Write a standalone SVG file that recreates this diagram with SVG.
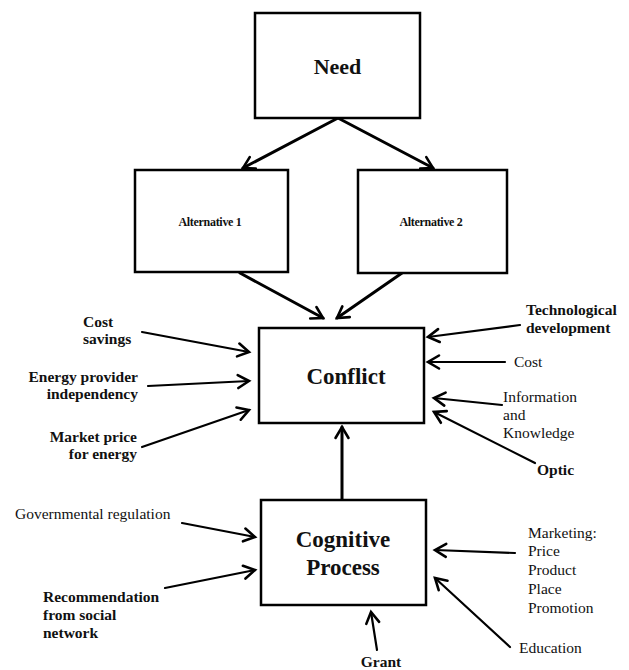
<svg xmlns="http://www.w3.org/2000/svg" width="629" height="670" viewBox="0 0 629 670">
<style>
.box{fill:#fff;stroke:#000;stroke-width:2.5}
.t{font-family:"Liberation Serif","Times New Roman",serif;fill:#111}
.b{font-weight:bold}
.lbl{font-size:15.5px}
.c{stroke:#000;fill:none;stroke-linecap:round}
.thick{stroke-width:3}
.thin{stroke-width:2.2}
</style>
<defs>
<marker id="ah" markerUnits="userSpaceOnUse" markerWidth="24" markerHeight="24" viewBox="-14 -12 16 24" refX="0" refY="0" orient="auto">
<path d="M-11,-6.5 L0,0 L-11,6.5" fill="none" stroke="#000" stroke-width="2.6" stroke-linecap="round" stroke-linejoin="miter"/>
</marker>
</defs>
<rect width="629" height="670" fill="#fff"/>
<g id="connectors">
<line class="c thick" x1="338" y1="118" x2="243" y2="168" marker-end="url(#ah)"/>
<line class="c thick" x1="338" y1="118" x2="433" y2="168" marker-end="url(#ah)"/>
<line class="c thick" x1="240" y1="273" x2="323" y2="318" marker-end="url(#ah)"/>
<line class="c thick" x1="402" y1="273" x2="337" y2="318" marker-end="url(#ah)"/>
<line class="c thick" x1="342" y1="500" x2="342" y2="427" marker-end="url(#ah)"/>
<line class="c thin" x1="142" y1="332" x2="249" y2="352" marker-end="url(#ah)"/>
<line class="c thin" x1="148" y1="386" x2="249" y2="381" marker-end="url(#ah)"/>
<line class="c thin" x1="142" y1="447" x2="249" y2="410" marker-end="url(#ah)"/>
<line class="c thin" x1="520" y1="325" x2="428" y2="337" marker-end="url(#ah)"/>
<line class="c thin" x1="505" y1="362" x2="428" y2="362" marker-end="url(#ah)"/>
<line class="c thin" x1="502" y1="405" x2="434" y2="398" marker-end="url(#ah)"/>
<line class="c thin" x1="535" y1="463" x2="434" y2="412" marker-end="url(#ah)"/>
<line class="c thin" x1="182" y1="523" x2="255" y2="537" marker-end="url(#ah)"/>
<line class="c thin" x1="165" y1="588" x2="255" y2="570" marker-end="url(#ah)"/>
<line class="c thin" x1="515" y1="553" x2="435" y2="550" marker-end="url(#ah)"/>
<line class="c thin" x1="510" y1="647" x2="435" y2="578" marker-end="url(#ah)"/>
<line class="c thin" x1="377" y1="650" x2="371" y2="612" marker-end="url(#ah)"/>
</g>
<g id="need">
<rect class="box" x="255" y="13" width="165" height="105"/>
<text class="t b" x="337.5" y="74" font-size="22" text-anchor="middle">Need</text>
</g>
<g id="alternative1">
<rect class="box" x="135" y="170" width="153" height="102"/>
<text class="t b" x="210" y="226" font-size="12" text-anchor="middle" letter-spacing="-0.3">Alternative 1</text>
</g>
<g id="alternative2">
<rect class="box" x="358" y="170" width="149" height="103"/>
<text class="t b" x="431" y="226" font-size="12" text-anchor="middle" letter-spacing="-0.3">Alternative 2</text>
</g>
<g id="conflict">
<rect class="box" x="259" y="328" width="165" height="95"/>
<text class="t b" x="346" y="384" font-size="23" text-anchor="middle">Conflict</text>
</g>
<g id="cognitive-process">
<rect class="box" x="261" y="500" width="165" height="105"/>
<text class="t b" x="343" y="547" font-size="23" text-anchor="middle">Cognitive</text>
<text class="t b" x="343" y="575" font-size="23" text-anchor="middle">Process</text>
</g>
<g id="cost-savings">
<text class="t b lbl" x="83" y="327">Cost</text>
<text class="t b lbl" x="83" y="344">savings</text>
</g>
<g id="energy-provider">
<text class="t b lbl" x="138" y="382" text-anchor="end">Energy provider</text>
<text class="t b lbl" x="138" y="399" text-anchor="end">independency</text>
</g>
<g id="market-price">
<text class="t b lbl" x="137" y="442" text-anchor="end">Market price</text>
<text class="t b lbl" x="137" y="459" text-anchor="end">for energy</text>
</g>
<g id="technological">
<text class="t b lbl" x="526" y="315">Technological</text>
<text class="t b lbl" x="526" y="333">development</text>
</g>
<g id="cost">
<text class="t lbl" x="514" y="367">Cost</text>
</g>
<g id="information">
<text class="t lbl" x="503" y="402">Information</text>
<text class="t lbl" x="503" y="420">and</text>
<text class="t lbl" x="503" y="438">Knowledge</text>
</g>
<g id="optic">
<text class="t b lbl" x="537" y="475">Optic</text>
</g>
<g id="governmental">
<text class="t lbl" x="15" y="519">Governmental regulation</text>
</g>
<g id="recommendation">
<text class="t b lbl" x="43" y="602">Recommendation</text>
<text class="t b lbl" x="43" y="620">from social</text>
<text class="t b lbl" x="43" y="638">network</text>
</g>
<g id="marketing">
<text class="t lbl" x="528" y="538">Marketing:</text>
<text class="t lbl" x="528" y="556">Price</text>
<text class="t lbl" x="528" y="575">Product</text>
<text class="t lbl" x="528" y="594">Place</text>
<text class="t lbl" x="528" y="613">Promotion</text>
</g>
<g id="education">
<text class="t lbl" x="519" y="653">Education</text>
</g>
<g id="grant">
<text class="t b lbl" x="381" y="667" text-anchor="middle">Grant</text>
</g>
</svg>
